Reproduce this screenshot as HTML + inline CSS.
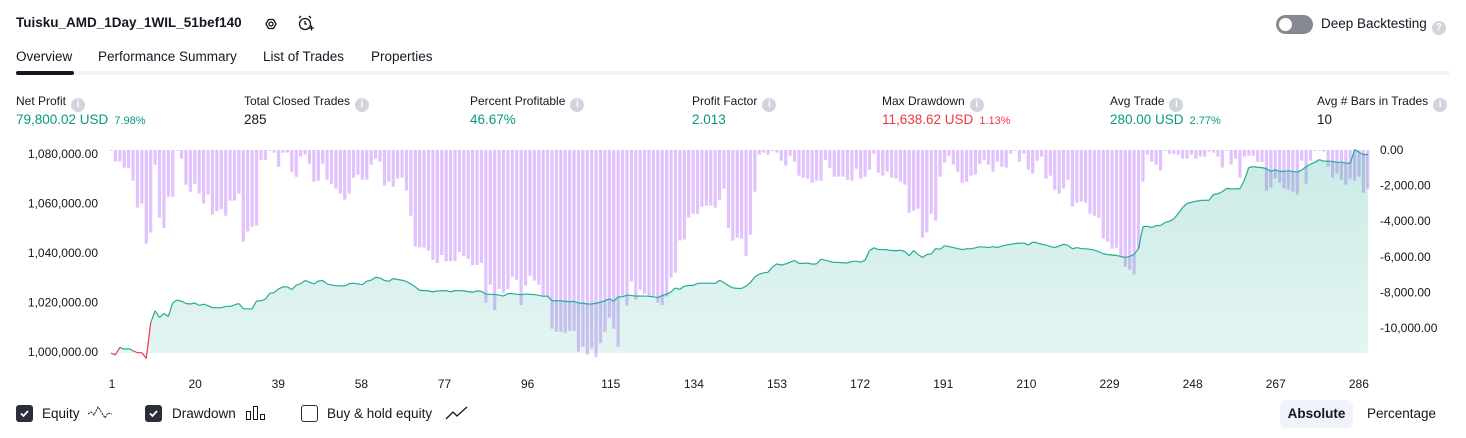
<!DOCTYPE html>
<html><head><meta charset="utf-8"><style>
*{margin:0;padding:0;box-sizing:border-box}
body{width:1466px;height:438px;background:#fff;font-family:"Liberation Sans",sans-serif;color:#131722;position:relative;overflow:hidden}
.abs{position:absolute;white-space:nowrap}
.title{left:16px;top:15px;font-size:13.5px;font-weight:bold}
.tab{top:49px;font-size:13.5px}
.lbl{top:94px;font-size:12px}
.val{top:112px;font-size:13.5px}
.pct{font-size:11px;margin-left:6px}
.info{display:inline-block;width:14px;height:14px;border-radius:50%;background:#d1d4dc;color:#fff;font-size:10px;font-weight:bold;text-align:center;line-height:14px;margin-left:5px;vertical-align:-2px}
.g{color:#089981}.r{color:#f23645}
.cb{width:17px;height:17px;border-radius:3px;top:405px}
.leg{top:406px;font-size:13.5px}
</style></head><body>
<div class="abs title">Tuisku_AMD_1Day_1WIL_51bef140</div>
<svg class="abs" style="left:262px;top:15px" width="18" height="18"><polygon points="4,9 6.5,4.5 11.5,4.5 14,9 11.5,13.5 6.5,13.5" fill="none" stroke="#131722" stroke-width="1.3"/><circle cx="9" cy="9" r="2" fill="none" stroke="#131722" stroke-width="1.3"/></svg>
<svg class="abs" style="left:296px;top:14px" width="20" height="20"><circle cx="9" cy="10" r="5.5" fill="none" stroke="#131722" stroke-width="1.3"/><path d="M9 7v3h2M3 4l2-2M15 4l-2-2M13 14h5M15.5 11.5v5" fill="none" stroke="#131722" stroke-width="1.3"/></svg>
<div class="abs" style="left:1276px;top:15px;width:37px;height:19px;border-radius:10px;background:#868993"><div style="position:absolute;left:3px;top:3px;width:13px;height:13px;border-radius:50%;background:#fff"></div></div>
<div class="abs" style="left:1321px;top:16px;font-size:13.5px">Deep Backtesting<span class="info" style="font-size:10px">?</span></div>
<div class="abs tab" style="left:16px">Overview</div>
<div class="abs tab" style="left:98px">Performance Summary</div>
<div class="abs tab" style="left:263px">List of Trades</div>
<div class="abs tab" style="left:371px">Properties</div>
<div class="abs" style="left:16px;top:71px;width:1433px;height:4px;background:#f0f3fa"></div>
<div class="abs" style="left:16px;top:71px;width:58px;height:4px;background:#131722;border-radius:2px"></div>

<div class="abs lbl" style="left:16px">Net Profit<span class="info">i</span></div>
<div class="abs val g" style="left:16px">79,800.02 USD<span class="pct">7.98%</span></div>
<div class="abs lbl" style="left:244px">Total Closed Trades<span class="info">i</span></div>
<div class="abs val" style="left:244px">285</div>
<div class="abs lbl" style="left:470px">Percent Profitable<span class="info">i</span></div>
<div class="abs val g" style="left:470px">46.67%</div>
<div class="abs lbl" style="left:692px">Profit Factor<span class="info">i</span></div>
<div class="abs val g" style="left:692px">2.013</div>
<div class="abs lbl" style="left:882px">Max Drawdown<span class="info">i</span></div>
<div class="abs val r" style="left:882px">11,638.62 USD<span class="pct">1.13%</span></div>
<div class="abs lbl" style="left:1110px">Avg Trade<span class="info">i</span></div>
<div class="abs val g" style="left:1110px">280.00 USD<span class="pct">2.77%</span></div>
<div class="abs lbl" style="left:1317px">Avg # Bars in Trades<span class="info">i</span></div>
<div class="abs val" style="left:1317px">10</div>

<svg id="chart" class="abs" style="left:0;top:0" width="1466" height="438">
<defs><linearGradient id="ag" x1="0" y1="0" x2="0" y2="1"><stop offset="0" stop-color="#22ab94" stop-opacity="0.24"/><stop offset="1" stop-color="#22ab94" stop-opacity="0.12"/></linearGradient></defs>
</svg>

<div class="abs cb" style="left:16px;background:#2a2e39"><svg width="17" height="17"><path d="M5 8.5l2.5 2.5 4.5-5" fill="none" stroke="#fff" stroke-width="1.8"/></svg></div>
<div class="abs leg" style="left:42px">Equity</div>
<svg class="abs" style="left:87px;top:403px" width="26" height="20"><path d="M1 11l3-2 3 3 4-8 4 6 3 5 3-5 4 1" fill="none" stroke="#131722" stroke-width="1" stroke-dasharray="2 1"/></svg>
<div class="abs cb" style="left:145px;background:#2a2e39"><svg width="17" height="17"><path d="M5 8.5l2.5 2.5 4.5-5" fill="none" stroke="#fff" stroke-width="1.8"/></svg></div>
<div class="abs leg" style="left:172px">Drawdown</div>
<svg class="abs" style="left:245px;top:405px" width="22" height="16"><rect x="1.5" y="6.5" width="4" height="8" fill="none" stroke="#131722"/><rect x="8.5" y="1.5" width="4" height="13" fill="none" stroke="#131722"/><rect x="15.5" y="9.5" width="4" height="5" fill="none" stroke="#131722"/></svg>
<div class="abs cb" style="left:301px;border:1.3px solid #2a2e39;background:#fff"></div>
<div class="abs leg" style="left:327px">Buy &amp; hold equity</div>
<svg class="abs" style="left:445px;top:405px" width="24" height="16"><path d="M1 14l7-7 4 4 10-9" fill="none" stroke="#131722" stroke-width="1.3"/></svg>
<div class="abs" style="left:1280px;top:400px;width:73px;height:28px;border-radius:6px;background:#f0f3fa;font-size:13.5px;font-weight:bold;text-align:center;line-height:28px">Absolute</div>
<div class="abs" style="left:1367px;top:406px;font-size:13.5px">Percentage</div>

<script>
const drawdown=[-40,-650,-650,-1000,-1000,-1720,-3240,-3010,-5260,-4640,-820,-3800,-4380,-2620,-2620,-40,-490,-1950,-2350,-1900,-2450,-3010,-2500,-3630,-3450,-3330,-3690,-2840,-2840,-2450,-5140,-4580,-4310,-4250,-550,-550,-40,-150,-940,-150,-150,-1220,-1500,-370,-260,-770,-1780,-1720,-770,-1670,-1900,-2170,-2450,-2790,-2450,-1550,-1390,-1670,-1670,-820,-490,-650,-2000,-1780,-2060,-1610,-1550,-2280,-3690,-5420,-5480,-5480,-5650,-6180,-6350,-5900,-6240,-6240,-6240,-5730,-5960,-6120,-6460,-6460,-6350,-8580,-7570,-8990,-7800,-8020,-7800,-7120,-7300,-8710,-7620,-7060,-7340,-7570,-8200,-8240,-10040,
-10210,-10210,-10270,-10160,-10160,-11330,-11050,-11500,-11160,-11639,-10850,-10210,-9420,-10040,-11050,-8240,-8740,-7380,-8400,-7850,-8070,-8200,-8200,-8580,-8710,-8240,-7170,-6890,-5090,-5030,-3800,-3580,-3580,-3180,-3120,-3120,-3240,-2790,-2170,-4380,-5090,-4930,-4980,-5940,-4760,-2340,-260,-150,-260,-70,-150,-600,-880,-320,-650,-1440,-1550,-1610,-1840,-1720,-1720,-550,-1000,-1500,-1500,-1500,-1670,-1720,-1050,-1610,-1500,-1110,-210,-1280,-1440,-1220,-1550,-1610,-1780,-1950,-3520,-3410,-3300,-4930,-4640,-3580,-3970,-1500,-710,-320,-820,-1220,-1840,-1780,-1440,-1390,-770,-550,-820,
-1220,-660,-940,-990,-210,-40,-660,-210,-1110,-1330,-600,-370,-1610,-1440,-2230,-2450,-2170,-1670,-3180,-2960,-2900,-2960,-3580,-3690,-3800,-4980,-5150,-5540,-5490,-6050,-6560,-6720,-7000,-5540,-1780,-260,-660,-820,-1160,-40,-210,-210,-260,-490,-490,-260,-490,-370,-370,-90,-150,-370,-990,-40,-820,-490,-1550,-370,-320,-320,-660,-660,-2290,-2120,-1610,-1840,-2170,-2230,-2340,-2510,-600,-1890,-600,-40,-40,-90,-940,-1550,-1330,-1670,-1950,-1610,-1720,-1500,-2400,-2170];
const equity=[999500,998800,1001900,1001100,1001400,1000500,999700,999700,997400,1011800,1016700,1013900,1015600,1014300,1019900,1021000,1020500,1019600,1019400,1019800,1018800,1019300,1018700,1017900,1017900,1017900,1018400,1018400,1019000,1019600,1017500,1017400,1017400,1020600,1020700,1021300,1023700,1024000,1025500,1026300,1026300,1025200,1027000,1027600,1028900,1028200,1027500,1028700,1028900,1027500,1027100,1026800,1026700,1026700,1027600,1027800,1027500,1027200,1028600,1029000,1030200,1029900,1028900,1028600,1029700,1029300,1029000,1028500,1027500,1026300,1024900,1024800,1024700,1024300,1024700,1024700,1024800,1024300,1024800,1024800,1024700,1024400,1024100,1024700,1024500,1023400,1023300,1023200,1023000,1022600,1023600,1023600,1023300,1023200,1023400,1023300,1023200,1022900,1022500,1022600,1020700,
1020700,1020700,1020500,1020300,1020500,1019800,1019700,1019400,1019400,1019700,1020100,1020700,1021500,1020500,1022300,1022300,1023000,1022800,1022600,1022600,1022600,1022500,1022300,1022000,1022800,1023400,1024300,1025900,1025300,1026600,1026900,1026900,1027700,1027800,1027800,1027800,1027700,1029000,1028000,1026800,1025900,1025700,1025700,1026600,1028100,1030400,1031400,1032000,1032200,1034400,1035600,1035100,1035600,1036300,1037000,1035800,1035800,1035900,1035500,1035600,1037500,1037100,1036600,1036200,1036200,1036000,1036000,1036600,1036700,1036300,1037100,1041000,1042100,1041400,1041400,1041300,1041000,1040900,1041100,1040600,1038900,1041000,1039400,1038200,1039400,1039600,1041800,1041500,1042900,1042600,1042200,1041800,1041400,1041700,1041700,1042100,1042500,1042400,1042200,
1042600,1042200,1042800,1043200,1043500,1043800,1044000,1044000,1043200,1044400,1044100,1043500,1043200,1042600,1042200,1042800,1043500,1043100,1041700,1042200,1041800,1041700,1041500,1041200,1040500,1039700,1039400,1039200,1039000,1038600,1038200,1038600,1039400,1041800,1050600,1050800,1050300,1051100,1051100,1052300,1052800,1053800,1055900,1058400,1060000,1060500,1060900,1061200,1061300,1061300,1063700,1063900,1064800,1066100,1065900,1065900,1066000,1069400,1074500,1074900,1074600,1074500,1074100,1073000,1073600,1073000,1073000,1073200,1072900,1072700,1073500,1074900,1075900,1076700,1077700,1077100,1077100,1077000,1076600,1076700,1076300,1076200,1081800,1080700,1079800,1079800];
const xTicks=[1,20,39,58,77,96,115,134,153,172,191,210,229,248,267,286];
const leftTicks=[1000000,1020000,1040000,1060000,1080000];
const rightTicks=[0,-2000,-4000,-6000,-8000,-10000];
const INITIAL=1000000;

const svg=document.getElementById('chart');
const NS='http://www.w3.org/2000/svg';
const x=t=>111+(t-1)*4.41;
const xt=t=>112+(t-1)*4.375;
const yL=v=>352-(v-1000000)*0.002475;
const yR=v=>150-v*0.0178;
const fmt=v=>v.toLocaleString('en-US',{minimumFractionDigits:2,maximumFractionDigits:2});
function mk(tag,attrs){const e=document.createElementNS(NS,tag);for(const k in attrs)e.setAttribute(k,attrs[k]);svg.appendChild(e);return e;}

const bars=document.createElementNS(NS,'g');svg.appendChild(bars);


drawdown.forEach((v,i)=>{
  const r=document.createElementNS(NS,'rect');
  r.setAttribute('x',x(i+1)-1.6);r.setAttribute('y',150);r.setAttribute('width',3.2);
  r.setAttribute('height',Math.max(0.8,yR(v)-150));r.setAttribute('fill','#e1c2fc');
  
  
  bars.appendChild(r);
});
const base=yL(INITIAL)+1;
let d='M'+x(1)+','+base;
equity.forEach((v,i)=>{d+=' L'+x(i+1).toFixed(1)+','+yL(v).toFixed(1);});
d+=' L'+x(equity.length)+','+base+' Z';
const area=mk('path',{d:d,fill:'url(#ag)'});


for(let i=1;i<equity.length;i++){
  const below=equity[i]<INITIAL||equity[i-1]<INITIAL&&i<10;
  const l=mk('line',{x1:x(i),y1:yL(equity[i-1]),x2:x(i+1),y2:yL(equity[i]),stroke:below?'#f23645':'#22ab94','stroke-width':1.2});
  
  
}
leftTicks.forEach(v=>{
  const t=mk('text',{x:98,y:yL(v)+4,'text-anchor':'end','font-size':12,fill:'#131722','font-family':'Liberation Sans, sans-serif'});
  t.textContent=fmt(v);
  
  
});
rightTicks.forEach(v=>{
  const t=mk('text',{x:1380,y:yR(v)+4,'font-size':12,fill:'#131722','font-family':'Liberation Sans, sans-serif'});
  t.textContent=fmt(v);
  
  
});
xTicks.forEach(v=>{
  const t=mk('text',{x:xt(v),y:388,'text-anchor':'middle','font-size':12,fill:'#131722','font-family':'Liberation Sans, sans-serif'});
  t.textContent=v;
  
  
});
</script>
</body></html>
